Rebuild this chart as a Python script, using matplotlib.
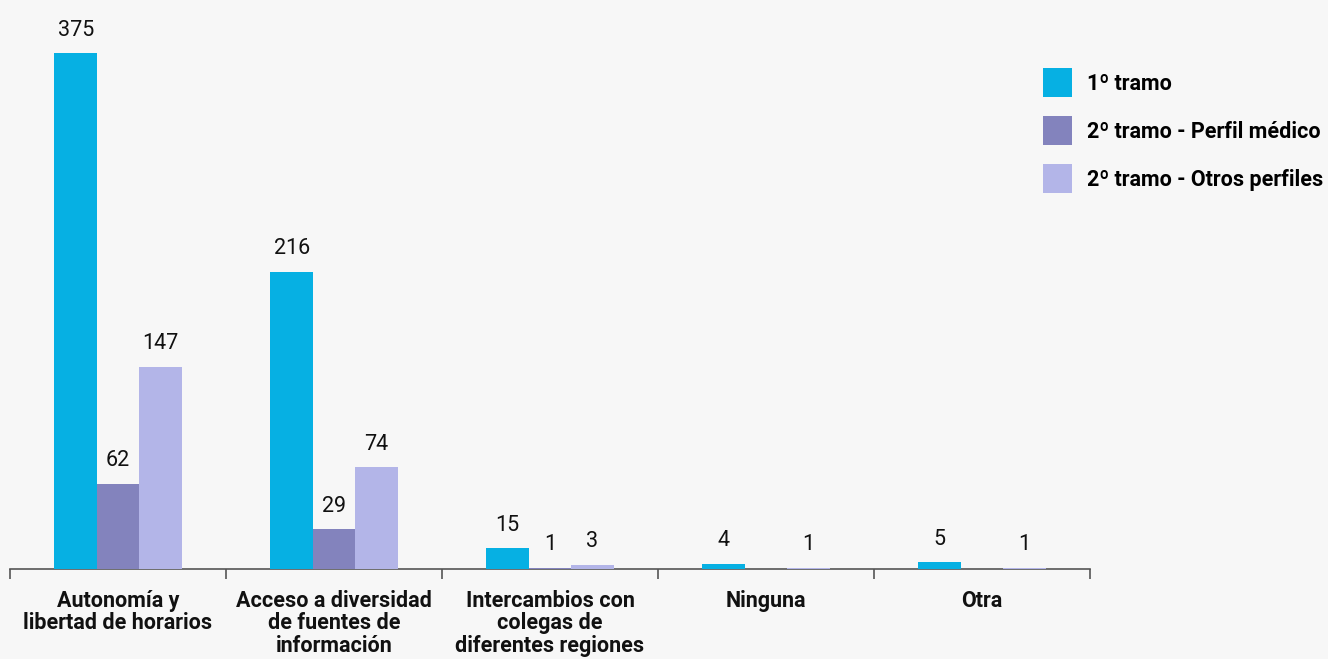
import numpy as np
import matplotlib.pyplot as plt

plt.rcParams['font.family'] = ['Roboto', 'DejaVu Sans']

categorias = ["Autonomía y\nlibertad de horarios",
              "Acceso a diversidad\nde fuentes de\ninformación",
              "Intercambios con\ncolegas de\ndiferentes regiones",
              "Ninguna",
              "Otra"]
series = ["1º tramo", "2º tramo - Perfil médico", "2º tramo - Otros perfiles"]
tramo1 = [375, 216, 15, 4, 5]
medico = [62, 29, 1, None, None]
otros = [147, 74, 3, 1, 1]
colores = ["#06b0e3", "#8383bd", "#b3b5e8"]

fondo = "#f7f7f7"
fig = plt.figure(figsize=(13.28, 6.59), dpi=100, facecolor=fondo)
# ejes en pixeles: x de 10 a 1090, base en y=569
ax = fig.add_axes([10 / 1328, 90 / 659, 1080 / 1328, 550 / 659])
ax.set_facecolor(fondo)

x = np.arange(len(categorias))
ancho = 0.196
for i, (nombre, vals) in enumerate(zip(series, [tramo1, medico, otros])):
    alturas = [v if v is not None else 0 for v in vals]
    barras = ax.bar(x + (i - 1) * ancho, alturas, ancho, color=colores[i],
                    label=nombre, linewidth=0, zorder=3)
    etiquetas = [str(v) if v is not None else "" for v in vals]
    ax.bar_label(barras, labels=etiquetas, padding=9, fontsize=15.5, color="#111111")

ax.set_xlim(-0.5, len(categorias) - 0.5)
ax.set_ylim(0, 400)
ax.set_yticks([])
for lado in ["top", "right", "left"]:
    ax.spines[lado].set_visible(False)
ax.spines["bottom"].set_color("#555555")
ax.spines["bottom"].set_linewidth(1.2)
ax.spines["bottom"].set_zorder(2)

# marcas en los limites de categoria, etiquetas en el centro
ax.set_xticks(np.arange(len(categorias) + 1) - 0.5)
ax.set_xticklabels([])
ax.tick_params(axis="x", which="major", length=7, width=1.2, color="#555555")
ax.set_xticks(x, minor=True)
ax.set_xticklabels(categorias, minor=True, fontsize=15.5, fontweight="bold",
                   color="#111111", linespacing=1.02)
ax.tick_params(axis="x", which="minor", length=0, pad=15)

fig.legend(loc="upper left", bbox_to_anchor=(1043 / 1328, 1 - 68 / 659),
           frameon=False, prop={"weight": "bold", "size": 15.5},
           handlelength=1.35, handleheight=1.7, handletextpad=0.7,
           labelspacing=0.88, borderpad=0, borderaxespad=0)

plt.savefig("out.png", dpi=100, facecolor=fondo)
